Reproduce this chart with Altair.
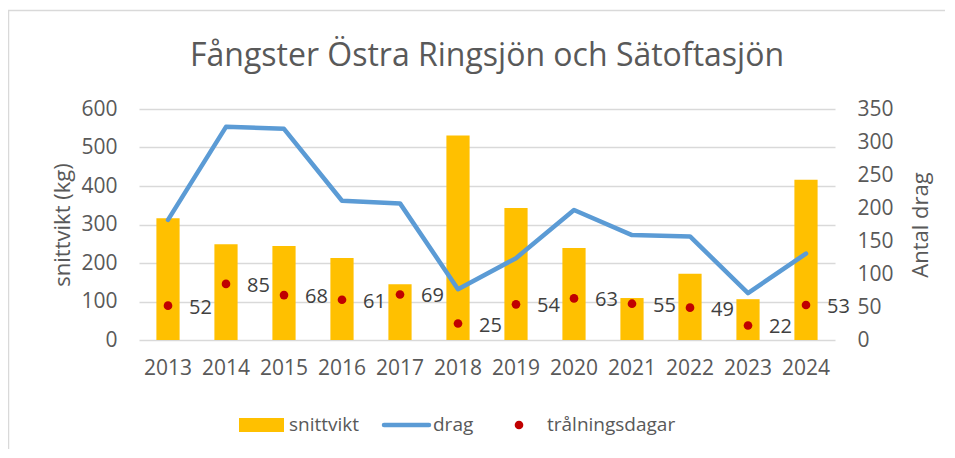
import altair as alt
import pandas as pd

years = ["2013", "2014", "2015", "2016", "2017", "2018", "2019", "2020", "2021", "2022", "2023", "2024"]
snittvikt = [316, 249, 244, 213, 145, 531, 343, 239, 109, 172, 106, 416]
drag = [182, 323, 320, 211, 207, 77, 124, 197, 159, 157, 71, 131]
tralningsdagar = [52, 85, 68, 61, 69, 25, 54, 63, 55, 49, 22, 53]
left_ticks = [0, 100, 200, 300, 400, 500, 600]
right_ticks = [0, 50, 100, 150, 200, 250, 300, 350]
chart_title = "Fångster Östra Ringsjön och Sätoftasjön"
left_title = "snittvikt (kg)"
right_title = "Antal drag"
legend_labels = ["snittvikt", "drag", "trålningsdagar"]

df = pd.DataFrame({"år": years, "snittvikt": snittvikt, "drag": drag, "dagar": tralningsdagar})
one = pd.DataFrame({"k": [0]})

FONT = "Open Sans"
GREY = "#595959"
GRID = "#D9D9D9"
W, H = 696, 231

x_enc = alt.X(
    "år:N",
    sort=years,
    scale=alt.Scale(paddingInner=0.6, paddingOuter=0.3),
    axis=alt.Axis(title=None, labelAngle=0, labelFontSize=21, labelFont=FONT, labelColor=GREY,
                  labelPadding=17, ticks=False, domain=False, grid=False),
)

left_axis = alt.Axis(values=left_ticks, title=left_title, grid=True, gridColor=GRID, gridWidth=1.3,
                     domain=False, ticks=False, labelPadding=22, labelFontSize=21, labelFont=FONT,
                     labelColor=GREY, titleFont=FONT, titleFontSize=22, titleFontWeight="normal",
                     titleColor=GREY, titleAngle=-90, titleX=-77, titleY=H / 2,
                     titleBaseline="middle", titleAlign="center")

right_axis = alt.Axis(orient="right", values=right_ticks, title=right_title, grid=False,
                      domain=False, ticks=False, labelPadding=22, labelFontSize=21, labelFont=FONT,
                      labelColor=GREY, labelAlign="left", titleFont=FONT, titleFontSize=22,
                      titleFontWeight="normal", titleColor=GREY, titleAngle=-90, titleX=85,
                      titleY=H / 2, titleBaseline="middle", titleAlign="center")

bars = alt.Chart(df).mark_bar(color="#FFC000").encode(
    x=x_enc,
    y=alt.Y("snittvikt:Q", scale=alt.Scale(domain=[0, 600], nice=False), axis=left_axis),
)

rscale = alt.Scale(domain=[0, 350], nice=False)
line = alt.Chart(df).mark_line(color="#5B9BD5", strokeWidth=4.5, strokeCap="round", strokeJoin="round").encode(
    x=x_enc, y=alt.Y("drag:Q", scale=rscale, axis=right_axis)
)
points = alt.Chart(df).mark_circle(color="#C00000", size=75, opacity=1).encode(
    x=x_enc, y=alt.Y("dagar:Q", scale=rscale, axis=right_axis)
)
labels = alt.Chart(df).mark_text(align="left", baseline="middle", dx=21, dy=2, fontSize=20,
                                 font=FONT, color="#404040").encode(
    x=x_enc, y=alt.Y("dagar:Q", scale=rscale, axis=right_axis), text="dagar:Q"
)
right_layer = alt.layer(line, points, labels)

# title as text
title_mark = alt.Chart(one).mark_text(align="center", baseline="alphabetic", fontSize=32, font=FONT,
                                      color=GREY).encode(
    x=alt.value(348), y=alt.value(-43), text=alt.value(chart_title))

# frame
frame_top = alt.Chart(one).mark_rule(color=GRID, strokeWidth=1.5).encode(
    x=alt.value(-131), x2=alt.value(816), y=alt.value(-98.5))
frame_left = alt.Chart(one).mark_rule(color=GRID, strokeWidth=1.5).encode(
    x=alt.value(-130.5), y=alt.value(-98.5), y2=alt.value(360))

# legend
LY = 316
leg_rect = alt.Chart(one).mark_rect(color="#FFC000").encode(
    x=alt.value(100), x2=alt.value(145), y=alt.value(LY - 7), y2=alt.value(LY + 7))
leg_line = alt.Chart(one).mark_rule(color="#5B9BD5", strokeWidth=4.5, strokeCap="round").encode(
    x=alt.value(245), x2=alt.value(290), y=alt.value(LY))
leg_pt = alt.Chart(one).mark_circle(color="#C00000", size=75, opacity=1).encode(
    x=alt.value(380), y=alt.value(LY))
leg_texts = []
for lx, lab in zip([150, 294, 408], legend_labels):
    leg_texts.append(alt.Chart(one).mark_text(align="left", baseline="middle", fontSize=19, font=FONT,
                                              color=GREY).encode(
        x=alt.value(lx), y=alt.value(LY), text=alt.value(lab)))

chart = alt.layer(bars, right_layer, title_mark, frame_top, frame_left, leg_rect, leg_line, leg_pt,
                  *leg_texts).resolve_scale(y="independent").properties(
    width=W, height=H, autosize="none",
    padding={"left": 131, "top": 101, "right": 110, "bottom": 109},
).configure_view(stroke=None)

chart.save("out.html", embed_options={"renderer": "svg", "actions": False})
